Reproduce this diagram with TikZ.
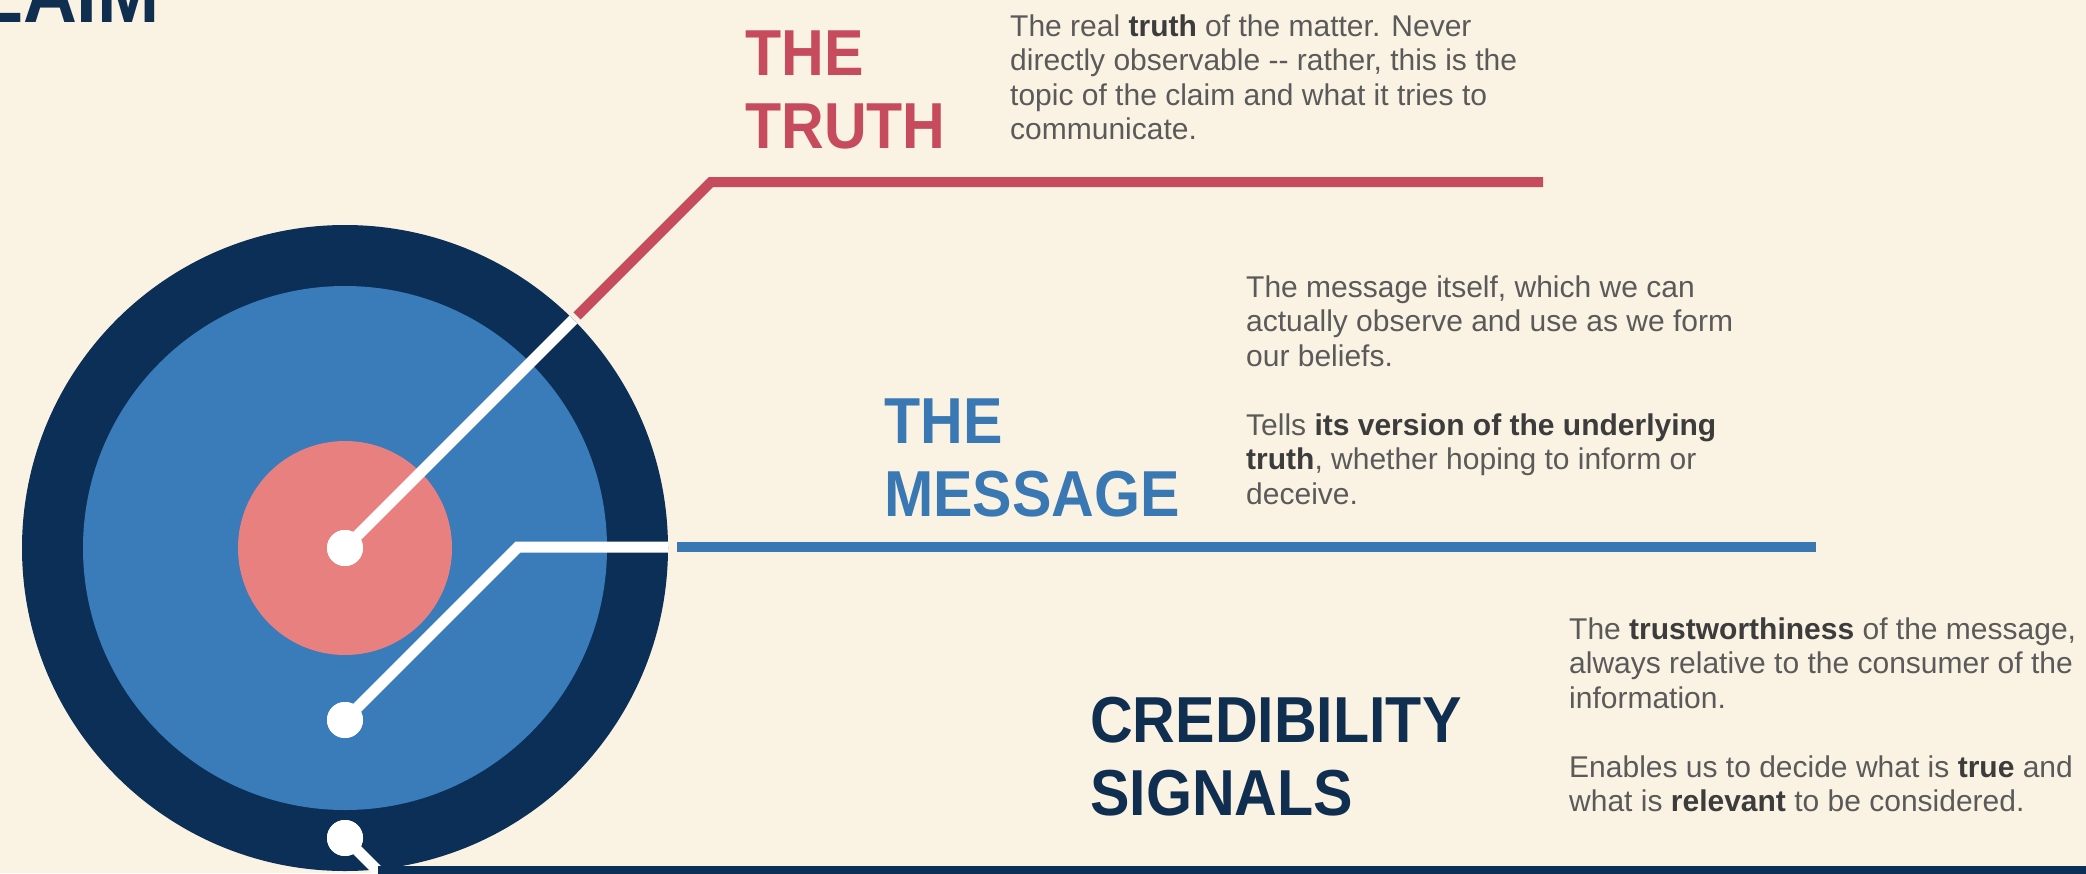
\documentclass[tikz,border=0pt]{standalone}
\usepackage{fontspec}
\setmainfont{Liberation Sans}
\newfontfamily\headfont{Liberation Sans}[FakeStretch=0.91]
\definecolor{bgc}{HTML}{FAF3E3}
\definecolor{navy}{HTML}{0B2F57}
\definecolor{midblue}{HTML}{3A7BBA}
\definecolor{corepink}{HTML}{E88080}
\definecolor{truthred}{HTML}{C54B5D}
\definecolor{msgblue}{HTML}{3A78B4}
\definecolor{credtext}{HTML}{102E50}
\definecolor{bodygray}{HTML}{5A5A5A}
\definecolor{boldgray}{HTML}{3C3C3C}
\newcommand{\bwd}[1]{\textbf{\color{boldgray}#1}}
\begin{document}
\begin{tikzpicture}[x=1pt,y=-1pt,
  disc/.style={circle,inner sep=0pt,outer sep=0pt},
  dotnode/.style={circle,fill=white,inner sep=0pt,minimum size=36pt},
  wline/.style={draw=white,line width=11pt},
  redline/.style={draw=truthred,line width=10pt},
  blueline/.style={draw=msgblue,line width=10pt},
  navyline/.style={draw=navy,line width=10pt},
  head/.style={inner sep=0pt,font=\headfont\bfseries\fontsize{65}{73}\selectfont},
  body/.style={inner sep=0pt,text=bodygray,font=\fontsize{30}{34.5}\selectfont}]
\useasboundingbox (0,0) rectangle (2086,873);
\fill[bgc] (0,0) rectangle (2086,873);
\begin{scope}
\clip (0,0) rectangle (2086,873);
% title fragment
\node[inner sep=0pt,text=credtext,font=\headfont\bfseries\fontsize{82}{90}\selectfont,anchor=base east] (hclaim) at (160,22) {CLAIM};
% target
\node[disc,fill=navy,minimum size=646pt] (ring) at (345,548) {};
\node[disc,fill=midblue,minimum size=524pt] (inner) at (345,548) {};
\node[disc,fill=corepink,minimum size=214pt] (core) at (345,548) {};
% connector points
\coordinate (tstart) at (577,316);
\coordinate (tcorner) at (711,182);
\coordinate (tend) at (1543,182);
\coordinate (mcorner) at (518,547);
\coordinate (mring) at (668,547);
\coordinate (mstart) at (677,547);
\coordinate (mend) at (1816,547);
\coordinate (cjoin) at (378,871);
\coordinate (cend) at (2100,871);
% dots
\node[dotnode] (d1) at (345,548) {};
\node[dotnode] (d2) at (345,720) {};
\node[dotnode] (d3) at (345,838) {};
% connectors
\draw[redline] (tstart) -- (tcorner) -- (tend);
\draw[wline] (d1.center) -- (ring.45);
\draw[wline] (d2.center) -- (mcorner) -- (mring);
\draw[blueline] (mstart) -- (mend);
\draw[wline] (d3.center) -- (cjoin);
\draw[navyline] (cjoin) -- (cend);
\node[dotnode] at (d1) {};
\node[dotnode] at (d2) {};
\node[dotnode] at (d3) {};
% headings
\node[head,text=truthred,anchor=base west] (htruth) at (745,75)
  {\begin{tabular}[t]{@{}l@{}}THE\\TRUTH\end{tabular}};
\node[head,text=msgblue,anchor=base west] (hmsg) at (884,443)
  {\begin{tabular}[t]{@{}l@{}}THE\\MESSAGE\end{tabular}};
\node[head,text=credtext,anchor=base west] (hcred) at (1090,742)
  {\begin{tabular}[t]{@{}l@{}}CREDIBILITY\\SIGNALS\end{tabular}};
% descriptions
\node[body,anchor=base west] (ttruth) at (1010,36)
  {\begin{tabular}[t]{@{}l@{}}The real \bwd{truth} of the matter. Never\\
  directly observable -{}- rather, this is the\\
  topic of the claim and what it tries to\\
  communicate.\end{tabular}};
\node[body,anchor=base west] (tmsg) at (1246,297)
  {\begin{tabular}[t]{@{}l@{}}The message itself, which we can\\
  actually observe and use as we form\\
  our beliefs.\\
  \\
  Tells \bwd{its version of the underlying}\\
  \bwd{truth}, whether hoping to inform or\\
  deceive.\end{tabular}};
\node[body,anchor=base west] (tcred) at (1569,639)
  {\begin{tabular}[t]{@{}l@{}}The \bwd{trustworthiness} of the message,\\
  always relative to the consumer of the\\
  information.\\
  \\
  Enables us to decide what is \bwd{true} and\\
  what is \bwd{relevant} to be considered.\end{tabular}};
\end{scope}
\end{tikzpicture}
\end{document}
